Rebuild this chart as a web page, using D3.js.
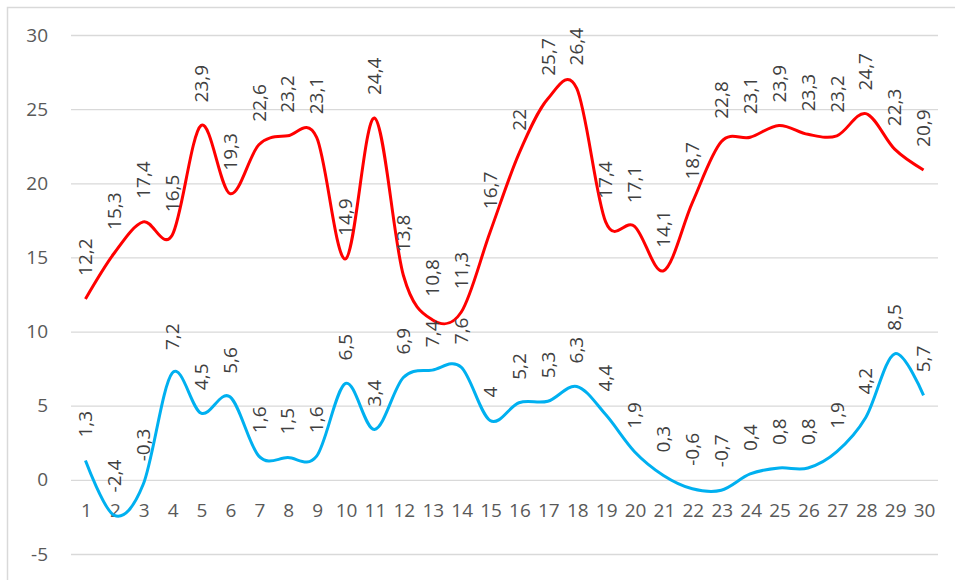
<!DOCTYPE html>
<html>
<head>
<meta charset="utf-8">
<script src="https://cdn.jsdelivr.net/npm/d3@7"></script>
<style>
  body { margin: 0; background: #fff; }
  svg { display: block; }
  text { font-family: "Open Sans", "Liberation Sans", sans-serif; }
</style>
</head>
<body>
<script>
// days of the month
var days = d3.range(1, 31);
// daily maximum (red) and minimum (blue)
var maxTemp = [12.2, 15.3, 17.4, 16.5, 23.9, 19.3, 22.6, 23.2, 23.1, 14.9,
               24.4, 13.8, 10.8, 11.3, 16.7, 22, 25.7, 26.4, 17.4, 17.1,
               14.1, 18.7, 22.8, 23.1, 23.9, 23.3, 23.2, 24.7, 22.3, 20.9];
var minTemp = [1.3, -2.4, -0.3, 7.2, 4.5, 5.6, 1.6, 1.5, 1.6, 6.5,
               3.4, 6.9, 7.4, 7.6, 4, 5.2, 5.3, 6.3, 4.4, 1.9,
               0.3, -0.6, -0.7, 0.4, 0.8, 0.8, 1.9, 4.2, 8.5, 5.7];
var yTicks = [-5, 0, 5, 10, 15, 20, 25, 30];

var series = [
    {name: "max", values: maxTemp, color: "#ff0000"},
    {name: "min", values: minTemp, color: "#00b0f0"}
];

// plot area, in pixels
var W = 955, H = 580;
var plot = {left: 71, right: 938, top: 35, bottom: 554};

var svg = d3.select("body").append("svg")
    .attr("width", W)
    .attr("height", H);

// chart frame (runs off the right and bottom edge)
svg.append("rect")
    .attr("x", 7.5).attr("y", 7.5)
    .attr("width", W + 20).attr("height", H + 20)
    .attr("fill", "#fff")
    .attr("stroke", "#d9d9d9")
    .attr("stroke-width", 1.5);

var x = d3.scaleBand()
    .domain(days)
    .range([plot.left, plot.right]);

var y = d3.scaleLinear()
    .domain([-5, 30])
    .range([plot.bottom, plot.top]);

function cx(i) { return x(days[i]) + x.bandwidth() / 2; }

// gridlines + y labels (plain hyphen for negatives, like the original)
var yAxis = svg.append("g")
    .attr("transform", "translate(" + plot.left + ",0)")
    .call(d3.axisLeft(y)
        .tickValues(yTicks)
        .tickFormat(function(d) { return String(d); })
        .tickSize(-(plot.right - plot.left))
        .tickPadding(23));
yAxis.select(".domain").remove();
yAxis.selectAll("line").attr("stroke", "#d9d9d9").attr("stroke-width", 1.3);
yAxis.selectAll("text")
    .attr("fill", "#595959")
    .style("font-size", "19px");

// category labels sit under the zero line
var xAxis = svg.append("g")
    .attr("transform", "translate(1," + y(0) + ")")
    .call(d3.axisBottom(x).tickSize(0).tickPadding(24));
xAxis.select(".domain").remove();
xAxis.selectAll("text")
    .attr("fill", "#595959")
    .style("font-size", "19px");

var line = d3.line()
    .x(function(d, i) { return cx(i); })
    .y(function(d) { return y(d); })
    .curve(d3.curveCatmullRom.alpha(0));

svg.selectAll(".series")
    .data(series)
    .enter().append("path")
    .attr("class", "series")
    .attr("fill", "none")
    .attr("stroke", function(d) { return d.color; })
    .attr("stroke-width", 3)
    .attr("stroke-linejoin", "round")
    .attr("d", function(d) { return line(d.values); });

// rotated value labels above each point
series.forEach(function(s) {
    svg.append("g").selectAll("text")
        .data(s.values)
        .enter().append("text")
        .attr("transform", function(d, i) {
            return "translate(" + cx(i) + "," + (y(d) - 23) + ") rotate(-90)";
        })
        .attr("dy", "0.35em")
        .attr("fill", "#404040")
        .style("font-size", "19px")
        .text(function(d) { return String(d).replace(".", ","); });
});
</script>
</body>
</html>
